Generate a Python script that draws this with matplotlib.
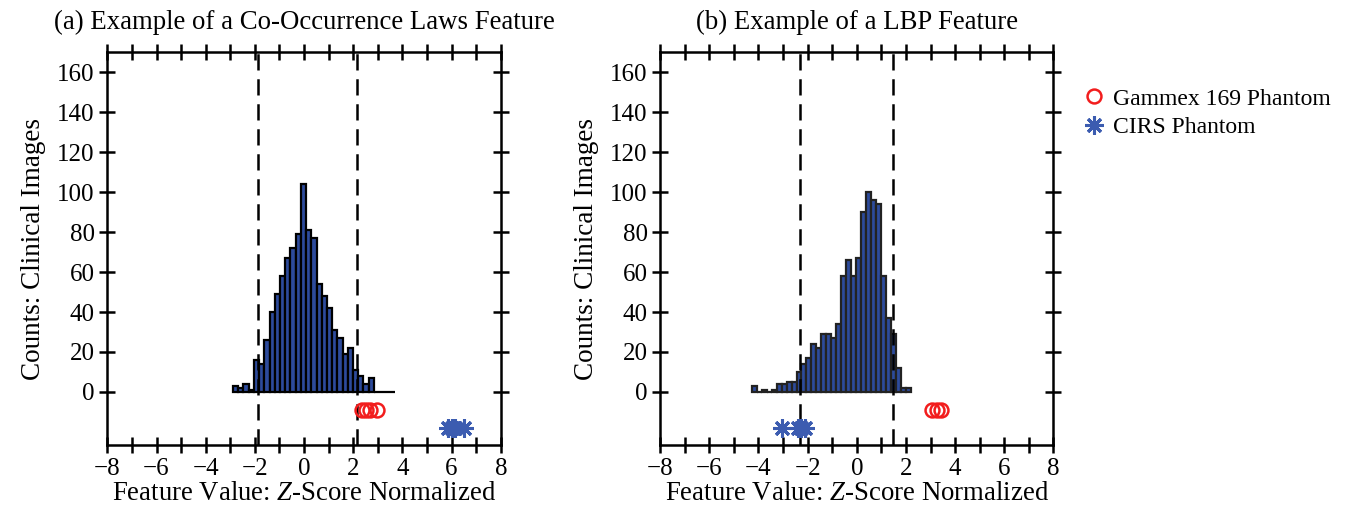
import numpy as np
import matplotlib
matplotlib.use("Agg")
import matplotlib.pyplot as plt
from matplotlib.lines import Line2D

plt.rcParams['font.family'] = ['Liberation Serif', 'DejaVu Serif']
plt.rcParams['mathtext.fontset'] = 'custom'
plt.rcParams['mathtext.rm'] = 'Liberation Serif'
plt.rcParams['mathtext.it'] = 'Liberation Serif:italic'

# ---------------- data ----------------
titles = ["(a) Example of a Co-Occurrence Laws Feature", "(b) Example of a LBP Feature"]
xlabel = "Feature Value: $Z$-Score Normalized"
ylabel = "Counts: Clinical Images"
legend_labels = ["Gammex 169 Phantom", "CIRS Phantom"]

# (a) Co-occurrence Laws feature histogram
hist_a_range = (-2.89, 3.69)
hist_a_counts = [3, 2, 4, 1, 16, 14, 26, 40, 49, 58, 67, 72, 79, 104, 81, 77,
                 54, 48, 42, 31, 27, 19, 22, 11, 8, 4, 7, 0, 0, 0, 0]
thresh_a = [-1.87, 2.15]
gammex_a_x = [2.35, 2.5, 2.7, 2.95]
cirs_a_x = [5.85, 6.0, 6.12, 6.5]

# (b) LBP feature histogram
hist_b_range = (-4.27, 2.20)
hist_b_counts = [3, 0, 1, 0, 1, 4, 4, 5, 5, 10, 14, 17, 24, 22, 29, 29, 27, 34,
                 58, 66, 58, 67, 90, 100, 96, 94, 58, 37, 29, 12, 2, 2]
thresh_b = [-2.31, 1.49]
gammex_b_x = [3.05, 3.25, 3.42]
cirs_b_x = [-3.05, -2.4, -2.25, -2.1]

gammex_y = -9
cirs_y = -18

xlim = (-8, 8)
ylim = (-26.8, 170)
xticks_major = np.arange(-8, 9, 2)
xticks_minor = np.arange(-7, 8, 1)
yticks = np.arange(0, 161, 20)

# ---------------- style ----------------
bar_color = '#2d4b9c'
red = '#f21d1d'
blue = '#3c5cb0'

fig = plt.figure(figsize=(13.52, 5.14), dpi=100)
axw = 0.2910
axh = 0.7649
axb = 0.1333
ax1 = fig.add_axes([0.0794, axb, axw, axh])
ax2 = fig.add_axes([0.4882, axb, axw, axh])

star_marker = (8, 2, 0)

def draw(ax, title, rng, counts, thresh, gx, cx, edgecol):
    n = len(counts)
    edges = np.linspace(rng[0], rng[1], n + 1)
    ax.bar(edges[:-1], counts, width=np.diff(edges), align='edge',
           color=bar_color, edgecolor=edgecol, linewidth=1.6, zorder=2)
    for t in thresh:
        ax.axvline(t, color='black', linestyle=(0, (6.5, 3.5)), linewidth=1.8, zorder=3)
    ax.plot(gx, [gammex_y] * len(gx), linestyle='none', marker='o', markersize=10,
            markerfacecolor='none', markeredgecolor=red, markeredgewidth=1.8, zorder=4)
    ax.plot(cx, [cirs_y] * len(cx), linestyle='none', marker=star_marker, markersize=13,
            markeredgecolor=blue, color=blue, markeredgewidth=2.2, zorder=4)
    ax.set_xlim(*xlim)
    ax.set_ylim(*ylim)
    ax.set_xticks(xticks_major)
    ax.set_xticks(xticks_minor, minor=True)
    ax.set_yticks(yticks)
    ax.tick_params(which='both', direction='inout', length=12, width=1.8,
                   top=True, right=True, labelsize=18, pad=3)
    for s in ax.spines.values():
        s.set_linewidth(1.8)
    ax.set_title(title, fontsize=19.3, pad=17)
    ax.set_xlabel(xlabel, fontsize=19.3, labelpad=1)
    ax.set_ylabel(ylabel, fontsize=19.5, labelpad=8)

draw(ax1, titles[0], hist_a_range, hist_a_counts, thresh_a, gammex_a_x, cirs_a_x, 'black')
draw(ax2, titles[1], hist_b_range, hist_b_counts, thresh_b, gammex_b_x, cirs_b_x, '#222222')

handles = [
    Line2D([], [], linestyle='none', marker='o', markersize=10, markerfacecolor='none',
           markeredgecolor=red, markeredgewidth=1.8),
    Line2D([], [], linestyle='none', marker=star_marker, markersize=13, color=blue,
           markeredgecolor=blue, markeredgewidth=2.2),
]
fig.legend(handles, legend_labels, loc='upper left', bbox_to_anchor=(0.7915, 0.847),
           frameon=False, fontsize=17, handletextpad=0.2, labelspacing=0.3,
           handlelength=1.2, borderaxespad=0)

fig.savefig('out.png', dpi=100)
